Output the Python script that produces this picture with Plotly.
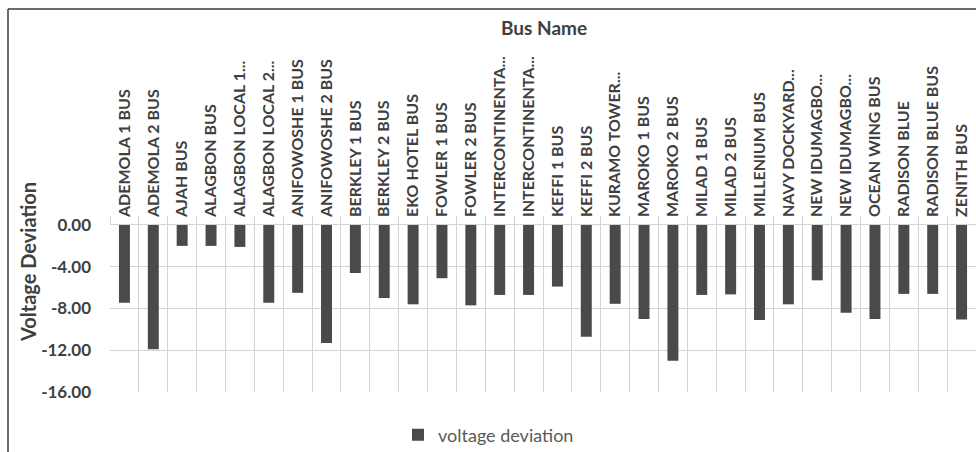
import plotly.graph_objects as go

bus_labels = [
    "ADEMOLA 1 BUS", "ADEMOLA 2 BUS", "AJAH BUS", "ALAGBON BUS", "ALAGBON LOCAL 1...",
    "ALAGBON LOCAL 2...", "ANIFOWOSHE 1 BUS", "ANIFOWOSHE 2 BUS", "BERKLEY 1 BUS", "BERKLEY 2 BUS",
    "EKO HOTEL BUS", "FOWLER 1 BUS", "FOWLER 2 BUS", "INTERCONTINENTA...", "INTERCONTINENTA...",
    "KEFFI 1 BUS", "KEFFI 2 BUS", "KURAMO TOWER...", "MAROKO 1 BUS", "MAROKO 2 BUS",
    "MILAD 1 BUS", "MILAD 2 BUS", "MILLENIUM BUS", "NAVY DOCKYARD...", "NEW IDUMAGBO...",
    "NEW IDUMAGBO...", "OCEAN WING BUS", "RADISON BLUE", "RADISON BLUE BUS", "ZENITH BUS",
]
voltage_deviation = [
    -7.45, -11.9, -2.0, -2.0, -2.1,
    -7.45, -6.5, -11.3, -4.6, -7.0,
    -7.6, -5.1, -7.7, -6.7, -6.7,
    -5.9, -10.7, -7.55, -9.0, -13.0,
    -6.7, -6.65, -9.1, -7.6, -5.3,
    -8.4, -9.0, -6.6, -6.6, -9.05,
]
y_ticks = [0, -4, -8, -12, -16]
y_tick_labels = ["0.00", "-4.00", "-8.00", "-12.00", "-16.00"]

W, H = 976, 452
L, R, T, B = 110, 0, 225, 60
PW = W - L - R
PH = H - T - B

def px(xp):
    return (xp - L) / PW

def py(yp):
    return (H - B - yp) / PH

n = len(bus_labels)
positions = list(range(n))
boundaries = [i - 0.5 for i in range(n + 1)]

TEXT = "#404040"
GRID = "#d4d4d4"
FONT = "Lato"

fig = go.Figure()
fig.add_trace(go.Bar(
    x=positions, y=voltage_deviation, name="voltage deviation",
    marker=dict(color="#4a4a4a", line=dict(width=0)), width=0.38,
    xaxis="x", yaxis="y",
))
fig.add_trace(go.Scatter(x=positions, y=[0] * n, xaxis="x2", yaxis="y",
                         mode="markers", marker=dict(opacity=0), showlegend=False,
                         hoverinfo="skip"))

fig.update_layout(
    width=W, height=H,
    margin=dict(l=L, r=R, t=T, b=B, autoexpand=False),
    paper_bgcolor="white", plot_bgcolor="white",
    font=dict(family=FONT, color=TEXT),
    showlegend=True,
    legend=dict(orientation="h", x=px(398), xanchor="left", y=py(435), yanchor="middle",
                font=dict(size=18, color="#595959", family=FONT)),
    xaxis=dict(
        range=[-0.5, n - 0.5], side="top",
        tickmode="array", tickvals=boundaries, ticktext=[""] * len(boundaries),
        ticks="outside", ticklen=8, tickcolor=GRID, tickwidth=1,
        showgrid=True, gridcolor=GRID, gridwidth=1,
        showline=True, linecolor=GRID, zeroline=False, automargin=False,
    ),
    xaxis2=dict(
        range=[-0.5, n - 0.5], side="top", overlaying="x",
        tickmode="array", tickvals=positions, ticktext=bus_labels,
        tickangle=-90, ticks="", ticklabelstandoff=7,
        tickfont=dict(size=16, color=TEXT, family=FONT, weight="bold"),
        showgrid=False, showline=False, zeroline=False, automargin=False,
    ),
    yaxis=dict(
        range=[-16, 0], tickmode="array", tickvals=y_ticks, ticktext=y_tick_labels,
        showgrid=True, gridcolor=GRID, gridwidth=1,
        zeroline=False, showline=False, ticks="", ticklabelstandoff=18,
        tickfont=dict(size=17, color=TEXT, family=FONT, weight="bold"),
        automargin=False,
    ),
    bargap=0.6,
)

fig.add_annotation(text="Bus Name", xref="paper", yref="paper", x=px(544), y=py(27),
                   xanchor="center", yanchor="middle",
                   showarrow=False, font=dict(size=19, color=TEXT, family=FONT, weight="bold"))
fig.add_annotation(text="Voltage Deviation", xref="paper", yref="paper", x=px(28), y=py(262),
                   xanchor="center", yanchor="middle",
                   showarrow=False, textangle=-90,
                   font=dict(size=20, color=TEXT, family=FONT, weight="bold"))

fig.add_shape(type="line", xref="paper", yref="paper", x0=px(8), x1=px(976), y0=py(9), y1=py(9),
              line=dict(color="#3a3a3a", width=1.5))
fig.add_shape(type="line", xref="paper", yref="paper", x0=px(8), x1=px(8), y0=py(9), y1=py(452),
              line=dict(color="#3a3a3a", width=1.5))

fig.write_html("out.html", config={"displayModeBar": False},
               post_script="document.body.style.margin='0';")
